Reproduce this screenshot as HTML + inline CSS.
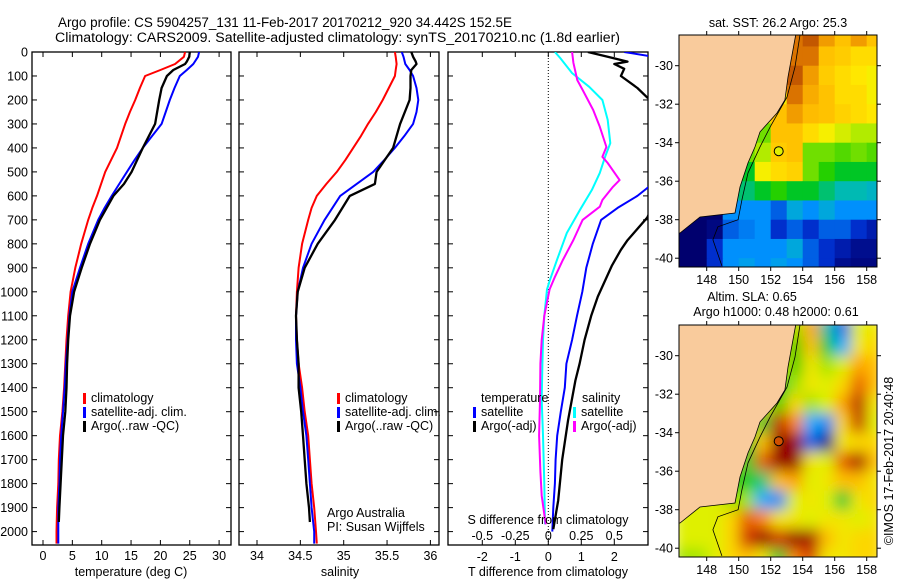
<!DOCTYPE html>
<html><head><meta charset="utf-8"><style>
html,body{margin:0;padding:0;background:#fff;}
svg{display:block;font-family:"Liberation Sans",sans-serif;}
text{font-size:12.5px;fill:#000;}
</style></head><body>
<svg id="chart" width="900" height="580" viewBox="0 0 900 580">
<defs>
<clipPath id="cp1"><rect x="32" y="52" width="199" height="493"/></clipPath>
<clipPath id="cp2"><rect x="239" y="52" width="200" height="493"/></clipPath>
<clipPath id="cp3"><rect x="448" y="52" width="200" height="493"/></clipPath>
<clipPath id="cpm1"><rect x="679" y="35" width="198" height="232"/></clipPath>
<clipPath id="cpm2"><rect x="679" y="325" width="198" height="232"/></clipPath>
<filter id="blur" x="-5%" y="-5%" width="110%" height="110%"><feGaussianBlur stdDeviation="7" edgeMode="duplicate"/></filter>
</defs>
<text x="58" y="27" textLength="454" lengthAdjust="spacingAndGlyphs" style="font-size:13.5px">Argo profile: CS 5904257_131 11-Feb-2017 20170212_920 34.442S 152.5E</text>
<text x="55" y="42" textLength="565" lengthAdjust="spacingAndGlyphs" style="font-size:13.5px">Climatology: CARS2009. Satellite-adjusted climatology: synTS_20170210.nc (1.8d earlier)</text>
<g id="g1"></g>
<g id="g2"></g>
<g id="g3"></g>
<g id="m1"></g>
<g id="m2"></g>
<text transform="translate(893,461) rotate(-90)" text-anchor="middle">©IMOS 17-Feb-2017 20:40:48</text>
</svg>
<script>
// ---- profile data ----
const depthT = [0,20,50,75,100,150,200,250,300,350,400,450,500,550,600,650,700,800,900,1000,1100,1200,1300,1400,1500,1600,1700,1800,1900,2000,2050];
const tempClim = [24.2,24,22.5,20,17.4,16.5,15.7,14.8,14.0,13.3,12.6,11.6,10.6,9.9,9.2,8.4,7.7,6.5,5.5,4.7,4.3,4.0,3.8,3.6,3.3,2.9,2.7,2.6,2.4,2.3,2.3];
const tempSat = [26.6,26.4,25.6,24.5,23.3,22.4,21.6,20.9,20.2,18.6,17.0,15.6,14.3,13.0,11.7,10.5,9.4,7.7,6.3,5.0,4.5,4.2,3.9,3.7,3.4,3.1,2.9,2.8,2.6,2.6,2.6];
const depthArgo = [0,20,40,50,75,100,150,200,300,400,500,550,600,700,800,900,1000,1100,1200,1300,1400,1500,1600,1700,1800,1900,1960];
const tempArgo = [25.0,24.9,24.5,24.2,22.2,21.1,20.2,19.8,19.1,17.0,15.1,13.8,12.0,9.7,8.0,6.6,5.3,4.6,4.3,4.1,4.0,3.8,3.4,3.2,3.0,2.8,2.7];
const salClim = [35.59,35.60,35.61,35.60,35.59,35.52,35.45,35.37,35.28,35.20,35.11,35.02,34.92,34.80,34.69,34.63,34.59,34.52,34.48,34.46,34.45,34.46,34.48,34.52,34.55,34.59,34.61,34.63,34.66,34.68,34.69];
const salSat = [35.67,35.69,35.71,35.76,35.80,35.84,35.86,35.84,35.80,35.70,35.59,35.47,35.34,35.15,34.96,34.87,34.78,34.63,34.53,34.47,34.45,34.45,34.46,34.50,34.53,34.57,34.59,34.61,34.63,34.66,34.66];
const salArgo = [35.78,35.80,35.83,35.84,35.78,35.77,35.77,35.76,35.65,35.57,35.38,35.36,35.07,34.90,34.70,34.55,34.47,34.45,34.46,34.48,34.48,34.51,34.53,34.55,34.57,34.60,34.61];
// difference panel
const depthDT = [0,20,50,100,200,300,400,500,567,600,650,700,800,900,1000,1100,1200,1300,1400,1500,1600,1700,1800,1900,2000];
const dTSat = [2.3,3.2,3.5,5.9,5.9,6.2,4.4,3.7,3.0,2.7,2.1,1.6,1.35,1.15,1.03,0.87,0.72,0.55,0.5,0.38,0.27,0.22,0.2,0.15,0.12];
const depthDA = [0,20,40,50,70,100,150,190,250,300,400,500,600,690,785,825,890,1020,1100,1200,1300,1370,1535,1700,1870,1990];
const dTArgo = [1.2,1.8,2.4,2.0,2.3,2.2,2.7,3.0,4,5,4.4,4.5,3.3,3.0,2.4,2.2,1.93,1.5,1.3,1.1,0.95,0.82,0.6,0.42,0.3,0.15];
const depthDS = [0,25,88,145,200,283,380,437,504,575,658,755,868,950,990,1100,1200,1300,1450,1600,1800,1970];
const dSSat = [0.05,0.09,0.18,0.31,0.41,0.45,0.47,0.43,0.39,0.33,0.24,0.14,0.065,0.013,-0.01,-0.03,-0.04,-0.045,-0.05,-0.04,-0.03,-0.025];
const depthDSA = [0,45,117,158,242,312,396,437,463,534,562,617,645,700,784,868,938,990,1100,1200,1300,1450,1600,1750,1850,1970];
const dSArgo = [0.18,0.19,0.22,0.26,0.34,0.39,0.44,0.41,0.45,0.54,0.49,0.41,0.39,0.26,0.19,0.11,0.05,0.01,-0.03,-0.05,-0.06,-0.063,-0.07,-0.06,-0.05,-0.02];
const depthTicks = [0,100,200,300,400,500,600,700,800,900,1000,1100,1200,1300,1400,1500,1600,1700,1800,1900,2000];
const tempTicks = [0,5,10,15,20,25,30];
const salTicks = [34,34.5,35,35.5,36];
const salTickLabels = ["34","34.5","35","35.5","36"];
const dTTicks = [-2,-1,0,1,2];
const dSTicks = [-0.5,-0.25,0,0.25,0.5];
const dSTickLabels = ["-0.5","-0.25","0","0.25","0.5"];
// ---- map data (1-degree cells, rows lat -28..-41, cols lon 146..159) ----
const mapLons = [146,147,148,149,150,151,152,153,154,155,156,157,158];
const mapLats = [-28,-29,-30,-31,-32,-33,-34,-35,-36,-37,-38,-39,-40];
const sstRows = [
[25,25,25,25,25,25,25,26.5,26.8,26,25.5,26,25.5],
[25,25,25,25,25,25,25,26.5,26.5,25.5,25.3,25,25],
[25,25,25,25,25,25,25,26.8,26,25.3,25,24.8,24.5],
[25,25,25,25,25,25,24.5,26.5,25.8,25.5,25,25,24.5],
[25,25,25,25,25,24,25.5,26,25.6,25.5,25.2,25,24.8],
[25,25,25,25,25,23,25.5,25.5,25,24.5,24,23.5,23.5],
[25,25,25,25,23,23.5,25.3,25.5,23,23,22.8,23,22.8],
[25,25,25,25,22,24.5,25,25.2,23,22.5,22,22,22],
[25,25,25,21,21.5,22,22.5,22,22,21.5,21,21,20.8],
[17.5,17.5,17.5,20,20,20,19.5,20.5,20,20.5,20,20,20],
[17.5,17.5,17.8,19.5,19.8,20,19,19.5,19,19.5,19.5,19,18.5],
[17.5,17.5,19,20,20,20,20,20.5,19.5,19,18.5,18,18],
[17.5,17.5,19,20,20.3,20,20.3,20,19.5,19,18,17.8,17.8]];
const slaRows = [
[0.1,0.1,0.1,0.1,0.1,0.1,0.1,0.0,0.25,-0.2,-0.4,0.05,0.1],
[0.1,0.1,0.1,0.1,0.1,0.1,0.1,-0.05,0.2,-0.1,-0.3,0.1,0.15],
[0.1,0.1,0.1,0.1,0.1,0.1,0.1,-0.05,0.1,0.0,0.05,0.25,0.2],
[0.1,0.1,0.1,0.1,0.1,0.1,-0.1,0.0,0.1,0.05,0.15,0.35,0.2],
[0.1,0.1,0.1,0.1,0.1,0.1,-0.05,0.15,0.0,0.05,0.25,0.5,0.1],
[0.1,0.1,0.1,0.1,0.1,-0.1,0.45,0.3,-0.3,-0.35,0.15,0.45,0.05],
[0.1,0.1,0.1,0.1,-0.1,0.2,0.65,0.6,-0.4,-0.7,0.1,0.15,0.15],
[0.1,0.1,0.1,0.1,-0.1,0.35,0.65,0.6,0.1,0.05,0.35,0.55,0.2],
[0.1,0.1,0.1,-0.1,-0.05,-0.15,0.2,0.25,0.05,0.1,0.2,0.2,0.1],
[0.05,0.05,0.05,0.0,0.0,-0.3,-0.35,0.05,0.1,0.05,-0.1,0.1,0.15],
[0.05,0.05,0.05,0.15,0.35,0.3,0.1,0.1,0.05,0.1,0.1,0.05,0.1],
[0.05,0.05,0.05,0.15,0.4,0.6,0.4,0.6,0.55,0.2,0.1,0.15,0.15],
[0.0,0.0,0.05,0.15,0.2,0.1,-0.1,0.3,0.4,0.1,0.1,0.15,0.15]];
const coastLon = [153.56,153.08,152.89,152.39,151.33,151.02,150.58,150.08,149.77,147.58,146.33];
const coastLat = [-28.4,-30.59,-31.78,-32.46,-33.44,-34.22,-35.05,-36.3,-37.65,-37.86,-38.69];
const shelfLon = [153.83,153.52,153.02,151.96,151.33,150.58,150.2,149.96,148.7,148.39,148.95];
const shelfLat = [-28.4,-30.07,-31.63,-33.19,-34.22,-35.57,-36.97,-38.0,-38.37,-39.04,-40.4];
const argoLon = 152.5, argoLat = -34.442;

const NS="http://www.w3.org/2000/svg";
function mk(parent,tag,attrs){const e=document.createElementNS(NS,tag);for(const k in attrs)e.setAttribute(k,attrs[k]);parent.appendChild(e);return e;}
const yD = d => 52 + 0.2398*d;

function frame(g,x0,x1){
  const r=mk(g,'rect',{x:x0,y:52,width:x1-x0,height:493,fill:'none',stroke:'#000','stroke-width':1.3});
  
  
  depthTicks.forEach(d=>{
    mk(g,'line',{x1:x0,x2:x0+5,y1:yD(d),y2:yD(d),stroke:'#000'});
    mk(g,'line',{x1:x1-5,x2:x1,y1:yD(d),y2:yD(d),stroke:'#000'});
  });
}
function xTicks(g,vals,labels,fx,ly){
  vals.forEach((v,i)=>{
    const x=fx(v);
    mk(g,'line',{x1:x,x2:x,y1:540,y2:545,stroke:'#000'});
    mk(g,'line',{x1:x,x2:x,y1:52,y2:57,stroke:'#000'});
    if(labels){const t=mk(g,'text',{x:x,y:ly,'text-anchor':'middle'});t.textContent=labels[i];
      
      }
  });
}
function line(g,xs,ds,fx,color,clip,name,w){
  const p=xs.map((v,i)=>(i?'L':'M')+fx(v).toFixed(1)+','+yD(ds[i]).toFixed(1)).join('');
  const e=mk(g,'path',{d:p,fill:'none',stroke:color,'stroke-width':w||2,'clip-path':'url(#'+clip+')','stroke-linejoin':'round'});
  
  
}
function legend(g,x,y,color,label){
  mk(g,'rect',{x:x,y:y-9,width:3,height:11,fill:color});
  const t=mk(g,'text',{x:x+8,y:y});t.textContent=label;
  
  
}
function txt(g,x,y,s,anchor,name){const t=mk(g,'text',{x:x,y:y,'text-anchor':anchor||'start'});t.textContent=s;
  
  return t;}

// Panel 1
const g1=document.getElementById('g1');
const fT=v=>43+5.87*v;
frame(g1,32,231);
depthTicks.forEach(d=>{const t=txt(g1,28,yD(d)+4.5,String(d),'end','y-tick-label');});
xTicks(g1,tempTicks,tempTicks.map(String),fT,560);
line(g1,tempClim,depthT,fT,'#ff0000','cp1','temp-climatology-line');
line(g1,tempSat,depthT,fT,'#0000ff','cp1','temp-satellite-line');
line(g1,tempArgo,depthArgo,fT,'#000000','cp1','temp-argo-line',2.3);
legend(g1,83,402,'#ff0000','climatology');
legend(g1,83,416,'#0000ff','satellite-adj. clim.');
legend(g1,83,430,'#000000','Argo(..raw -QC)');
txt(g1,131,576,'temperature (deg C)','middle','x-axis-title-temperature');

// Panel 2
const g2=document.getElementById('g2');
const fS=v=>257+86.7*(v-34);
frame(g2,239,439);
xTicks(g2,salTicks,salTickLabels,fS,560);
line(g2,salClim,depthT,fS,'#ff0000','cp2','sal-climatology-line');
line(g2,salSat,depthT,fS,'#0000ff','cp2','sal-satellite-line');
line(g2,salArgo,depthArgo,fS,'#000000','cp2','sal-argo-line',2.3);
legend(g2,337,402,'#ff0000','climatology');
legend(g2,337,416,'#0000ff','satellite-adj. clim.');
legend(g2,337,430,'#000000','Argo(..raw -QC)');
txt(g2,327,517,'Argo Australia','start','credit-line-1');
txt(g2,327,531,'PI: Susan Wijffels','start','credit-line-2');
txt(g2,340,576,'salinity','middle','x-axis-title-salinity');

// Panel 3
const g3=document.getElementById('g3');
const fdT=v=>548.3+33*v;
const fdS=v=>548.3+132*v;
frame(g3,448,648);
xTicks(g3,dTTicks,dTTicks.map(String),fdT,561);
mk(g3,'line',{x1:548.3,x2:548.3,y1:52,y2:545,stroke:'#000','stroke-dasharray':'1,2'});
line(g3,dSSat,depthDS,fdS,'#00ffff','cp3','sal-diff-satellite-line');
line(g3,dSArgo,depthDSA,fdS,'#ff00ff','cp3','sal-diff-argo-line');
line(g3,dTSat,depthDT,fdT,'#0000ff','cp3','temp-diff-satellite-line');
line(g3,dTArgo,depthDA,fdT,'#000000','cp3','temp-diff-argo-line',2.3);
txt(g3,481,402,'temperature','start','legend-title-temperature');
legend(g3,473,416,'#0000ff','satellite');
legend(g3,473,430,'#000000','Argo(-adj)');
txt(g3,582,402,'salinity','start','legend-title-salinity');
legend(g3,573,416,'#00ffff','satellite');
legend(g3,573,430,'#ff00ff','Argo(-adj)');
txt(g3,548,524,'S difference from climatology','middle','s-axis-title');
dSTicks.forEach((v,i)=>txt(g3,fdS(v),540,dSTickLabels[i],'middle','s-tick-label'));
txt(g3,548,576,'T difference from climatology','middle','x-axis-title-tdiff');

// Maps
function interp(stops,t){t=Math.max(0,Math.min(1,t));
  for(let i=1;i<stops.length;i++){if(t<=stops[i][0]){const a=stops[i-1],b=stops[i],f=(t-a[0])/(b[0]-a[0]);
    return 'rgb('+[1,2,3].map(k=>Math.round(a[k]+(b[k]-a[k])*f)).join(',')+')';}}
  const l=stops[stops.length-1];return 'rgb('+l[1]+','+l[2]+','+l[3]+')';}
const sstStops=[[0,0,0,110],[0.15,0,40,200],[0.27,0,150,255],[0.38,0,190,170],[0.5,0,200,0],[0.62,170,235,0],[0.75,255,240,0],[0.85,255,190,0],[0.93,230,130,0],[1,180,70,0]];
const slaStops=[[0,0,0,140],[0.12,0,60,220],[0.25,0,170,255],[0.38,0,200,120],[0.45,0,200,0],[0.5,160,228,0],[0.55,235,242,0],[0.64,255,210,0],[0.74,255,140,0],[0.84,210,50,0],[1,150,0,0]];
const lx=lon=>706.7+(lon-148)*16;
function drawMap(g,off,rows,cf,clip,blur,dotColor,title,name){
  const ly=lat=>65.7+off+(-30-lat)*19.25;
  const cg=mk(g,'g',{'clip-path':'url(#'+clip+')'});
  const hg=mk(cg,'g',blur?{filter:'url(#blur)'}:{});
  rows.forEach((row,r)=>row.forEach((v,c)=>{
    const cell=mk(hg,'rect',{x:lx(mapLons[c]),y:ly(mapLats[r]),width:16.6,height:19.9,fill:cf(v)});
    
    
  }));
  let p='M679,'+(off+30)+' L'+lx(coastLon[0])+','+(off+30);
  coastLon.forEach((lo,i)=>p+=' L'+lx(lo).toFixed(1)+','+ly(coastLat[i]).toFixed(1));
  p+=' L670,'+ly(-38.7).toFixed(1)+' Z';
  const land=mk(cg,'path',{d:p,fill:'#f9cb9c',stroke:'#000','stroke-width':0.8});
  
  
  const sp=shelfLon.map((lo,i)=>(i?'L':'M')+lx(lo).toFixed(1)+','+ly(shelfLat[i]).toFixed(1)).join('');
  const sh=mk(cg,'path',{d:sp,fill:'none',stroke:'#000','stroke-width':0.8});
  
  
  const dot=mk(g,'circle',{cx:lx(argoLon),cy:ly(argoLat),r:4.5,fill:dotColor,stroke:'#000','stroke-width':1});
  
  
  const fr=mk(g,'rect',{x:679,y:35+off,width:198,height:232,fill:'none',stroke:'#000','stroke-width':1});
  
  
  [148,150,152,154,156,158].forEach(lo=>{
    mk(g,'line',{x1:lx(lo),x2:lx(lo),y1:31+off,y2:35+off,stroke:'#000'});
    mk(g,'line',{x1:lx(lo),x2:lx(lo),y1:267+off,y2:271+off,stroke:'#000'});
    txt(g,lx(lo),284+off,String(lo),'middle','lon-tick-label');
  });
  [-30,-32,-34,-36,-38,-40].forEach(la=>{
    mk(g,'line',{x1:675,x2:679,y1:ly(la),y2:ly(la),stroke:'#000'});
    mk(g,'line',{x1:877,x2:881,y1:ly(la),y2:ly(la),stroke:'#000'});
    txt(g,673,ly(la)+4.5,String(la),'end','lat-tick-label');
  });
  title.forEach((s,i)=>txt(g,s[1],s[2],s[0],'middle',name+'-title-'+(i+1)));
}
drawMap(document.getElementById('m1'),0,sstRows,v=>interp(sstStops,(v-17.5)/9.5),'cpm1',false,'#e0f000',[['sat. SST: 26.2 Argo: 25.3',778,27]],'sst');
drawMap(document.getElementById('m2'),290,slaRows,v=>interp(slaStops,(v+0.6)/1.2),'cpm2',true,'#d05000',[['Altim. SLA: 0.65',752,301],['Argo h1000: 0.48 h2000: 0.61',776,316]],'sla');
</script>
</body></html>
